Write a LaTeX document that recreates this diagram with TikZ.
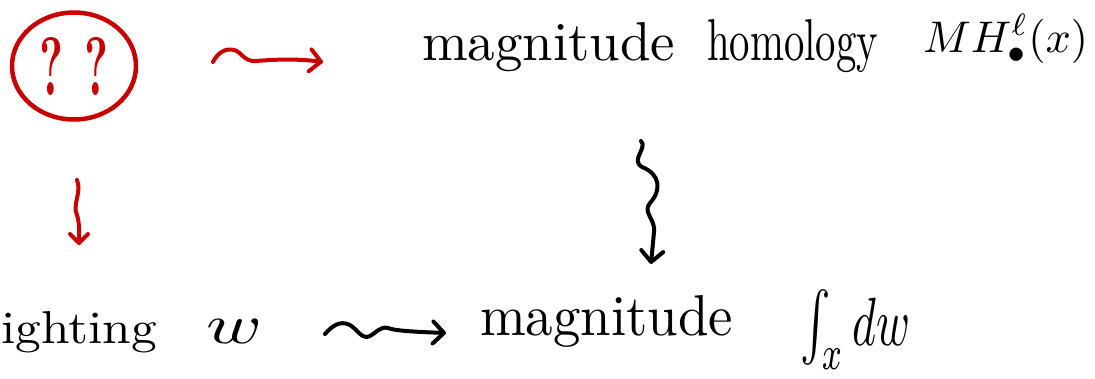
\documentclass[tikz,border=0pt]{standalone}
\usetikzlibrary{arrows.meta,shapes.geometric}
\definecolor{penred}{HTML}{C80000}
\newcommand{\rbx}[3]{\resizebox{#1}{#2}{#3}}
\begin{document}
\begin{tikzpicture}[x=1pt,y=-1pt,
  ink/.style={line width=4pt, line cap=round, line join=round},
  hand/.style={inner sep=0pt, outer sep=0pt},
  headtip/.style={-{Straight Barb[round,length=#1,width=2.0*#1]}},
]
\useasboundingbox (0,0) rectangle (1095,378);
% red circled question marks
\node[ellipse, draw=penred, line width=4.5pt, minimum width=124pt, minimum height=107pt,
      inner sep=0pt, text=penred] (q) at (74,66)
      {\rbx{24pt}{58pt}{\bfseries ?}\hspace{20pt}\rbx{24pt}{58pt}{\bfseries ?}};
% top text
\node[hand, anchor=base west] (mh) at (422,60)
  {\rbx{253pt}{38pt}{magnitude}\hspace{32pt}\rbx{171pt}{41pt}{homology}\hspace{45pt}\raisebox{8pt}{\rbx{165pt}{!}{$MH^{\ell}_{\bullet}(x)$}}};
% bottom texts
\node[hand, anchor=base east] (wt) at (263,343)
  {\rbx{214pt}{32pt}{weighting}\hspace{50pt}\rbx{56pt}{24pt}{$w$}};
\node[hand, anchor=base west] (mag) at (480,335)
  {\rbx{253pt}{40pt}{magnitude}\hspace{67pt}\raisebox{-10pt}{\rbx{110pt}{55pt}{$\int_{x} dw$}}};
% connectors
\coordinate (r1) at (213,62);
\coordinate (r2) at (323,62);
\draw[ink, penred, headtip=11pt]
  (r1) .. controls (218,52) and (226,48) .. (234,50)
       .. controls (242,52) and (244,62) .. (256,61)
       .. controls (280,59) and (300,59) .. (r2);
\coordinate (d1) at (77,180);
\coordinate (d2) at (79,245);
\draw[ink, penred, headtip=9pt]
  (d1) .. controls (82,192) and (72,205) .. (77,215)
       .. controls (80,225) and (79,235) .. (d2);
\coordinate (v1) at (641,141);
\coordinate (v2) at (651,264);
\draw[ink, headtip=11pt]
  (v1) .. controls (648,148) and (630,160) .. (642,167)
       .. controls (660,174) and (662,190) .. (650,203)
       .. controls (642,212) and (656,220) .. (654,232)
       -- (v2);
\coordinate (b1) at (325,334);
\coordinate (b2) at (446,333);
\draw[ink, headtip=11pt]
  (b1) .. controls (332,326) and (340,320) .. (350,325)
       .. controls (358,330) and (362,340) .. (370,336)
       .. controls (376,333) and (380,326) .. (388,328)
       .. controls (395,331) and (420,332) .. (b2);
\end{tikzpicture}
\end{document}
